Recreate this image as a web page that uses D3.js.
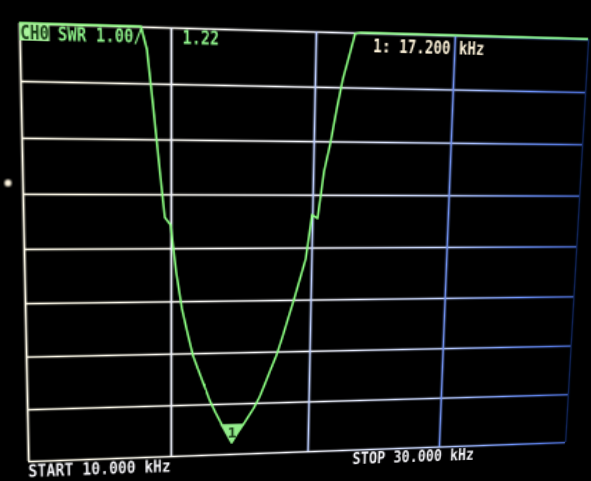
<!DOCTYPE html>
<html>
<head>
<meta charset="utf-8">
<script src="https://cdn.jsdelivr.net/npm/d3@7"></script>
<style>
  html, body { margin: 0; padding: 0; background: #000; width: 591px; height: 481px; overflow: hidden; }
  #bezel { position: absolute; left: 0; top: 0; }
  #screen { position: absolute; left: 0; top: 0; transform-origin: 0 0; }
</style>
</head>
<body>
<svg id="bezel" width="591" height="481"></svg>
<svg id="screen"></svg>
<script>
// Sweep settings
const startKHz = 10;
const stopKHz = 30;
const sweepPoints = 101;

// Measured SWR, one value per sweep point (10.0 .. 30.0 kHz, 0.2 kHz step)
const swrValues = [
  41.6, 40.3, 38.9, 37.4, 35.8, 34.1, 32.4, 30.6, 28.8, 26.9,
  25.0, 23.1, 21.2, 19.4, 17.7, 16.1, 14.6, 13.2, 11.9, 10.7,
  9.6, 8.6, 7.62, 6.57, 5.57, 5.43, 4.53, 3.85, 3.38, 2.94,
  2.65, 2.36, 2.07, 1.84, 1.63, 1.42, 1.22, 1.40, 1.56, 1.73,
  1.90, 2.11, 2.38, 2.66, 2.93, 3.27, 3.64, 4.00, 4.39, 4.78,
  5.62, 5.55, 6.44, 6.95, 7.58, 8.15, 8.56, 8.98, 9.4, 9.9,
  10.5, 11.1, 11.8, 12.5, 13.3, 14.1, 15.0, 15.9, 16.8, 17.7,
  18.6, 19.5, 20.4, 21.3, 22.2, 23.1, 24.0, 24.8, 25.6, 26.4,
  27.2, 28.0, 28.7, 29.4, 30.1, 30.8, 31.4, 32.0, 32.6, 33.2,
  33.7, 34.2, 34.7, 35.2, 35.6, 36.0, 36.4, 36.8, 37.1, 37.4,
  37.7
];

// Grid divisions
const swrTicks = [1, 2, 3, 4, 5, 6, 7, 8, 9];
const freqTicks = [10, 15, 20, 25, 30];

// Marker 1 and header texts
const markerIndex = 36;
const channelLabel = "CH0";
const traceLabel = "SWR 1.00/";

// ---- flat display geometry (grid 400 x 320 with a margin) ----
const W = 400, H = 320, M = 40;
const SW = W + 2 * M, SH = H + 2 * M;

const freqs = d3.range(sweepPoints).map(i => startKHz + i * (stopKHz - startKHz) / (sweepPoints - 1));
const x = d3.scaleLinear().domain([startKHz, stopKHz]).range([M, M + W]);
const y = d3.scaleLinear().domain([1, 9]).range([M + H, M]).clamp(true);

// ---- perspective of the photographed panel: unit square -> quad ----
const corners = [[19, 23], [588, 39], [565, 442], [28, 461]]; // TL, TR, BR, BL

function squareToQuad(q) {
  const [[x0, y0], [x1, y1], [x2, y2], [x3, y3]] = q;
  const dx1 = x1 - x2, dx2 = x3 - x2, dx3 = x0 - x1 + x2 - x3;
  const dy1 = y1 - y2, dy2 = y3 - y2, dy3 = y0 - y1 + y2 - y3;
  const det = dx1 * dy2 - dx2 * dy1;
  const g = (dx3 * dy2 - dx2 * dy3) / det;
  const h = (dx1 * dy3 - dx3 * dy1) / det;
  return [
    [x1 - x0 + g * x1, x3 - x0 + h * x3, x0],
    [y1 - y0 + g * y1, y3 - y0 + h * y3, y0],
    [g, h, 1]
  ];
}
function mul(A, B) {
  return A.map(row => B[0].map((_, j) => row.reduce((s, v, k) => s + v * B[k][j], 0)));
}
const Hq = squareToQuad(corners);
const S = [[1 / W, 0, -M / W], [0, 1 / H, -M / H], [0, 0, 1]];
const T = mul(Hq, S);

d3.select("#screen")
  .attr("width", SW).attr("height", SH)
  .style("transform", `matrix3d(${T[0][0]},${T[1][0]},0,${T[2][0]},${T[0][1]},${T[1][1]},0,${T[2][1]},0,0,1,0,${T[0][2]},${T[1][2]},0,${T[2][2]})`);

const svg = d3.select("#screen");
const defs = svg.append("defs");

// grid colour drifts from white on the left to blue on the right of the panel
const tint = ["#fffbea", "#f4f6ff", "#c4d4ff", "#6f95ff", "#23409e"];
const grad = defs.append("linearGradient")
  .attr("id", "gridTint").attr("gradientUnits", "userSpaceOnUse")
  .attr("x1", M).attr("x2", M + W).attr("y1", 0).attr("y2", 0);
[0, 0.42, 0.64, 0.8, 1].forEach((o, i) => grad.append("stop").attr("offset", o).attr("stop-color", tint[i]));

const soft = defs.append("filter").attr("id", "soft")
  .attr("x", "-5%").attr("y", "-5%").attr("width", "110%").attr("height", "110%");
soft.append("feGaussianBlur").attr("stdDeviation", 0.35);

// ---- grid via axes ----
const gridY = svg.append("g").attr("transform", `translate(${M},0)`).attr("filter", "url(#soft)")
  .call(d3.axisLeft(y).tickValues(swrTicks).tickSize(-W).tickFormat(""));
const gridX = svg.append("g").attr("transform", `translate(0,${M + H})`).attr("filter", "url(#soft)")
  .call(d3.axisBottom(x).tickValues(freqTicks).tickSize(-H).tickFormat(""));
[gridX, gridY].forEach(g => {
  g.select(".domain").remove();
  g.selectAll(".tick line").attr("stroke", "url(#gridTint)").attr("stroke-width", 1.6);
});
// vertical lines take the tint at their own position; the far edge is dim
gridX.selectAll(".tick line")
  .attr("stroke", d => d3.interpolateRgbBasis(tint)((x(d) - M) / W))
  .attr("stroke-opacity", d => d === stopKHz ? 0.55 : 1)
  .attr("stroke-width", d => d === stopKHz ? 1.3 : 1.6);

// ---- SWR trace ----
const line = d3.line().x((d, i) => x(freqs[i])).y(d => y(d));
svg.append("path")
  .datum(swrValues)
  .attr("d", line)
  .attr("fill", "none")
  .attr("stroke", "#8cff82")
  .attr("stroke-width", 1.55)
  .attr("stroke-linejoin", "round")
  .attr("filter", "url(#soft)");

// ---- marker 1 ----
const mx = x(freqs[markerIndex]), my = y(swrValues[markerIndex]);
const mk = svg.append("g").attr("transform", `translate(${mx},${my})`);
mk.append("path").attr("d", "M0,0.5 L-8.5,-15 L8.5,-15 Z").attr("fill", "#93ec8c");
mk.append("text").attr("x", 0.3).attr("y", -4).attr("text-anchor", "middle")
  .attr("font-family", "DejaVu Sans Mono, monospace").attr("font-weight", "bold")
  .attr("font-size", 11).attr("fill", "#1c3d1a").text("1");

// ---- header and footer texts (narrow, tall device font) ----
const label = (t, str) => t
  .attr("font-family", "DejaVu Sans Mono, Liberation Mono, monospace")
  .attr("font-weight", "bold").attr("font-size", 13.2)
  .attr("textLength", str.length * 6.25).attr("lengthAdjust", "spacingAndGlyphs")
  .text(str);

svg.append("rect").attr("x", M).attr("y", M).attr("width", 19.5).attr("height", 12).attr("fill", "#a9f59c");
svg.append("text").attr("x", M + 0.6).attr("y", M + 10.8).attr("fill", "#163a14").call(label, channelLabel);
svg.append("text").attr("x", M + 25).attr("y", M + 11.5).attr("fill", "#90f58c").call(label, traceLabel);
svg.append("text").attr("x", M + 108).attr("y", M + 11.5).attr("fill", "#90f58c")
  .call(label, swrValues[markerIndex].toFixed(2));
svg.append("text").attr("x", M + 241).attr("y", M + 14).attr("fill", "#fff4da")
  .call(label, `1: ${freqs[markerIndex].toFixed(3)} kHz`);
svg.append("text").attr("x", M + 0).attr("y", M + H + 12.5).attr("fill", "#f4f4f8")
  .call(label, `START ${startKHz.toFixed(3)} kHz`);
svg.append("text").attr("x", M + 234).attr("y", M + H + 12).attr("fill", "#f4f4f8")
  .call(label, `STOP ${stopKHz.toFixed(3)} kHz`);

// ---- small reflection on the bezel ----
const bz = d3.select("#bezel");
bz.append("defs").append("filter").attr("id", "bl").append("feGaussianBlur").attr("stdDeviation", 1.2);
bz.append("circle").attr("cx", 8).attr("cy", 183).attr("r", 3.5).attr("fill", "#fff6e0").attr("filter", "url(#bl)");
</script>
</body>
</html>
